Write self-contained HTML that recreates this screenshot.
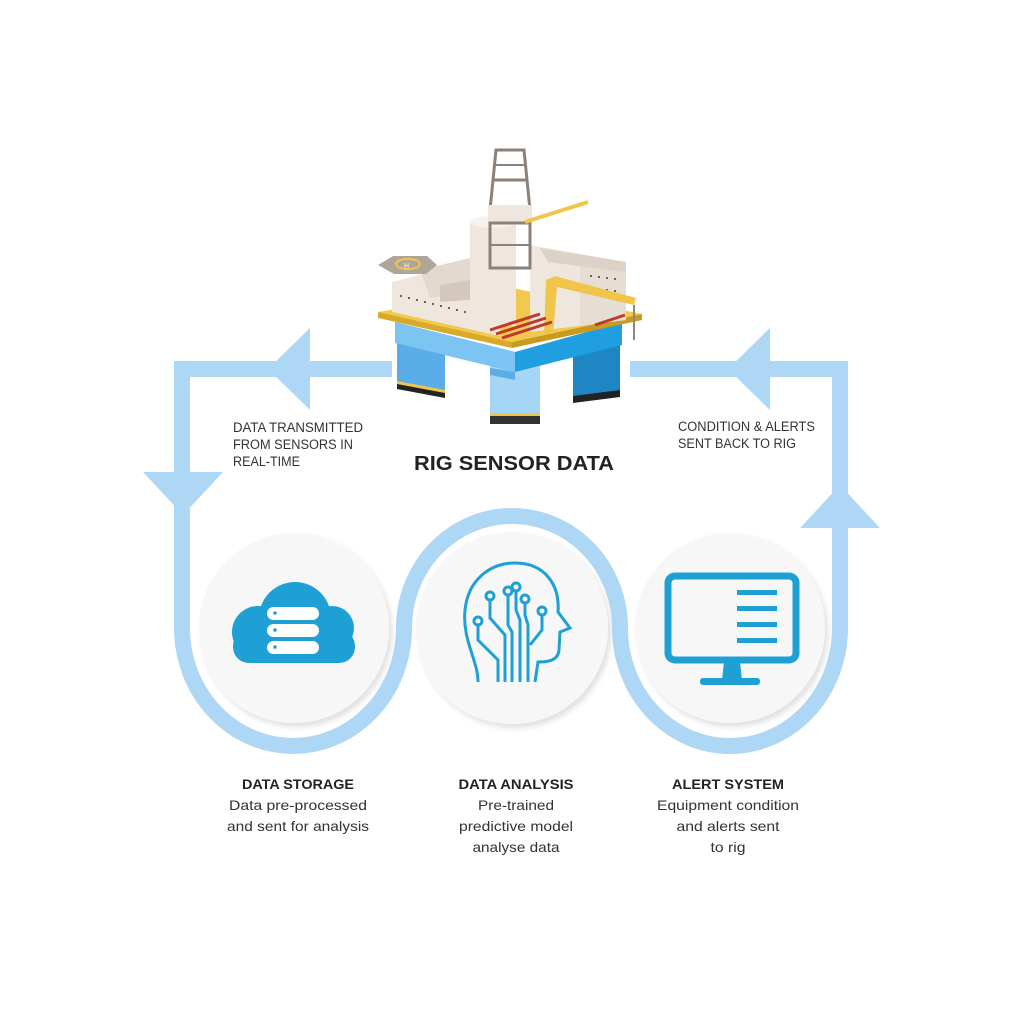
<!DOCTYPE html>
<html><head><meta charset="utf-8"><style>
html,body{margin:0;padding:0;background:#fff;}
svg{display:block}
text{font-family:"Liberation Sans",sans-serif;}
</style></head><body>
<svg width="1024" height="1024" viewBox="0 0 1024 1024" xmlns="http://www.w3.org/2000/svg">
<defs>
<filter id="sh" x="-20%" y="-20%" width="140%" height="140%"><feDropShadow dx="3" dy="4" stdDeviation="3" flood-color="#000" flood-opacity="0.12"/></filter>
</defs>
<circle cx="294" cy="628" r="95" fill="#f7f7f7" filter="url(#sh)"/>
<circle cx="512" cy="628" r="96" fill="#f7f7f7" filter="url(#sh)"/>
<circle cx="730" cy="628" r="95" fill="#f7f7f7" filter="url(#sh)"/>
<g fill="none" stroke="#aed6f5" stroke-width="16">
<path d="M392 369 H182 V628 A111 118 0 0 0 404 628 A108 112 0 0 1 620 628 A110 118 0 0 0 840 628 V369 H630"/>
</g>
<g fill="#aed6f5">
<polygon points="268,369 310,328 310,410"/>
<polygon points="143,472 223,472 183,515"/>
<polygon points="800,528 880,528 840,485"/>
<polygon points="728,369 770,328 770,410"/>
</g>
<!-- rig -->
<g>
<!-- legs -->
<polygon points="397,335 445,345 445,392 397,383" fill="#5aade8"/>
<polygon points="490,360 540,360 540,416 490,416" fill="#a6d6f6"/>
<polygon points="573,345 620,330 620,392 573,398" fill="#1f86c4"/>
<polygon points="397,383 445,392 445,398 397,389" fill="#222"/>
<polygon points="397,381 445,390 445,393 397,384" fill="#f0c64a"/>
<polygon points="490,416 540,416 540,424 490,424" fill="#333"/>
<polygon points="490,413 540,413 540,416 490,416" fill="#f0c64a"/>
<polygon points="573,396 620,390 620,397 573,403" fill="#222"/>
<!-- pontoon -->
<polygon points="395,322 515,352 622,322 622,345 515,372 395,343" fill="#1f9ee0"/>
<polygon points="395,322 515,352 515,372 395,343" fill="#7cc4f2"/>
<polygon points="490,368 515,372 515,380 490,375" fill="#5aade8"/>
<!-- deck -->
<polygon points="378,312 512,342 642,314 512,288" fill="#f2c94c"/>
<polygon points="378,312 512,342 512,348 378,318" fill="#d9a92a"/>
<polygon points="512,342 642,314 642,320 512,348" fill="#c99a20"/>
<!-- buildings -->
<polygon points="392,282 470,262 500,272 500,336 392,312" fill="#efe7de"/>
<polygon points="420,270 470,258 480,262 480,290 430,298" fill="#e3d9cf"/>
<polygon points="440,285 470,280 470,300 440,302" fill="#d4c8bc"/>
<rect x="470" y="222" width="46" height="104" fill="#efe7de"/>
<ellipse cx="493" cy="222" rx="23" ry="6" fill="#f7f2ec"/>
<polygon points="530,245 626,262 626,320 530,332" fill="#efe7de"/>
<polygon points="580,255 626,262 626,320 580,325" fill="#e6ddd3"/>
<polygon points="540,248 626,262 626,272 548,262" fill="#dcd2c8"/>
<g fill="#6b625a">
<rect x="590" y="275" width="2" height="2"/><rect x="598" y="276" width="2" height="2"/><rect x="606" y="277" width="2" height="2"/><rect x="614" y="278" width="2" height="2"/>
<rect x="590" y="287" width="2" height="2"/><rect x="598" y="288" width="2" height="2"/><rect x="606" y="289" width="2" height="2"/><rect x="614" y="290" width="2" height="2"/>
<rect x="400" y="295" width="2" height="2"/><rect x="408" y="297" width="2" height="2"/><rect x="416" y="299" width="2" height="2"/><rect x="424" y="301" width="2" height="2"/><rect x="432" y="303" width="2" height="2"/><rect x="440" y="305" width="2" height="2"/><rect x="448" y="307" width="2" height="2"/><rect x="456" y="309" width="2" height="2"/><rect x="464" y="311" width="2" height="2"/>
</g>
<!-- helipad -->
<polygon points="378,265 393,256 427,256 437,265 426,274 394,274" fill="#b0a59a"/>
<ellipse cx="408" cy="264" rx="12" ry="5" fill="none" stroke="#f0c64a" stroke-width="2"/>
<text x="404" y="268" font-size="7" fill="#fff">H</text>
<!-- derrick -->
<polygon points="490,210 530,210 524,150 496,150" fill="none" stroke="#8b8179" stroke-width="3"/>
<line x1="493" y1="180" x2="527" y2="180" stroke="#8b8179" stroke-width="3"/>
<line x1="494" y1="165" x2="526" y2="165" stroke="#8b8179" stroke-width="2"/>
<rect x="488" y="205" width="44" height="18" fill="#efe7de"/>
<rect x="490" y="223" width="40" height="45" fill="none" stroke="#8b8179" stroke-width="3"/>
<line x1="490" y1="245" x2="530" y2="245" stroke="#8b8179" stroke-width="2"/>
<!-- cranes -->
<line x1="525" y1="222" x2="588" y2="202" stroke="#f0c64a" stroke-width="4"/>
<polygon points="546,280 555,276 636,298 634,305 557,287 553,334 544,334" fill="#f0c64a"/>
<line x1="634" y1="305" x2="634" y2="340" stroke="#888" stroke-width="2"/>
<!-- pipes -->
<path d="M490 330 L540 314 M496 334 L546 318 M502 338 L552 322" stroke="#c0392b" stroke-width="3" fill="none"/>
<path d="M595 325 L625 315" stroke="#c0392b" stroke-width="3"/>
</g>
<!-- cloud -->
<g fill="#1fa0d5">
<circle cx="295" cy="618" r="36"/>
<circle cx="332" cy="628" r="22"/>
<circle cx="258" cy="632" r="26"/>
<rect x="233" y="630" width="122" height="33" rx="16"/>
</g>
<g fill="#fff">
<rect x="267" y="607" width="52" height="13" rx="6.5"/>
<rect x="267" y="624" width="52" height="13" rx="6.5"/>
<rect x="267" y="641" width="52" height="13" rx="6.5"/>
</g>
<g fill="#1fa0d5"><circle cx="275" cy="613" r="1.8"/><circle cx="275" cy="630" r="1.8"/><circle cx="275" cy="647" r="1.8"/></g>
<!-- head -->
<g fill="none" stroke="#1fa0d5" stroke-width="3">
<path d="M478 682 C478 660 462 640 465 610 C468 580 490 563 515 563 C545 563 560 585 558 612 L570 628 L560 632 L559 650 C558 660 550 662 538 662 L535 682"/>
<path d="M490 600 V618 L505 635 V682"/><circle cx="490" cy="596" r="4"/>
<path d="M508 595 V625 L512 632 V682"/><circle cx="508" cy="591" r="4"/>
<path d="M516 591 V610 L520 620 V682"/><circle cx="516" cy="587" r="4"/>
<path d="M525 603 V615 L528 625 V682"/><circle cx="525" cy="599" r="4"/>
<path d="M542 615 V630 L530 645"/><circle cx="542" cy="611" r="4"/>
<path d="M478 625 V640 L498 660 V682"/><circle cx="478" cy="621" r="4"/>
</g>
<!-- monitor -->
<rect x="668" y="576" width="128" height="84" rx="7" fill="none" stroke="#1fa0d5" stroke-width="7"/>
<g fill="#1fa0d5">
<rect x="737" y="590" width="40" height="5"/><rect x="737" y="606" width="40" height="5"/>
<rect x="737" y="622" width="40" height="5"/><rect x="737" y="638" width="40" height="5"/>
<polygon points="724,662 740,662 742,680 722,680"/>
<rect x="700" y="678" width="60" height="7" rx="3"/>
</g>
<!-- texts -->
<g fill="#333" font-size="13.5">
<text x="233" y="432" textLength="130" lengthAdjust="spacingAndGlyphs">DATA TRANSMITTED</text>
<text x="233" y="449" textLength="120" lengthAdjust="spacingAndGlyphs">FROM SENSORS IN</text>
<text x="233" y="466" textLength="67" lengthAdjust="spacingAndGlyphs">REAL-TIME</text>
<text x="678" y="431" textLength="137" lengthAdjust="spacingAndGlyphs">CONDITION &amp; ALERTS</text>
<text x="678" y="448" textLength="118" lengthAdjust="spacingAndGlyphs">SENT BACK TO RIG</text>
</g>
<text x="414" y="470" font-size="20" font-weight="bold" fill="#222" textLength="200" lengthAdjust="spacingAndGlyphs">RIG SENSOR DATA</text>
<g fill="#222" font-size="14" font-weight="bold" text-anchor="middle">
<text x="298" y="789" textLength="112" lengthAdjust="spacingAndGlyphs">DATA STORAGE</text>
<text x="516" y="789" textLength="115" lengthAdjust="spacingAndGlyphs">DATA ANALYSIS</text>
<text x="728" y="789" textLength="112" lengthAdjust="spacingAndGlyphs">ALERT SYSTEM</text>
</g>
<g fill="#333" font-size="14" text-anchor="middle">
<text x="298" y="810" textLength="138" lengthAdjust="spacingAndGlyphs">Data pre-processed</text>
<text x="298" y="831" textLength="142" lengthAdjust="spacingAndGlyphs">and sent for analysis</text>
<text x="516" y="810" textLength="76" lengthAdjust="spacingAndGlyphs">Pre-trained</text>
<text x="516" y="831" textLength="114" lengthAdjust="spacingAndGlyphs">predictive model</text>
<text x="516" y="852" textLength="87" lengthAdjust="spacingAndGlyphs">analyse data</text>
<text x="728" y="810" textLength="142" lengthAdjust="spacingAndGlyphs">Equipment condition</text>
<text x="728" y="831" textLength="103" lengthAdjust="spacingAndGlyphs">and alerts sent</text>
<text x="728" y="852" textLength="35" lengthAdjust="spacingAndGlyphs">to rig</text>
</g>
</svg>
</body></html>
